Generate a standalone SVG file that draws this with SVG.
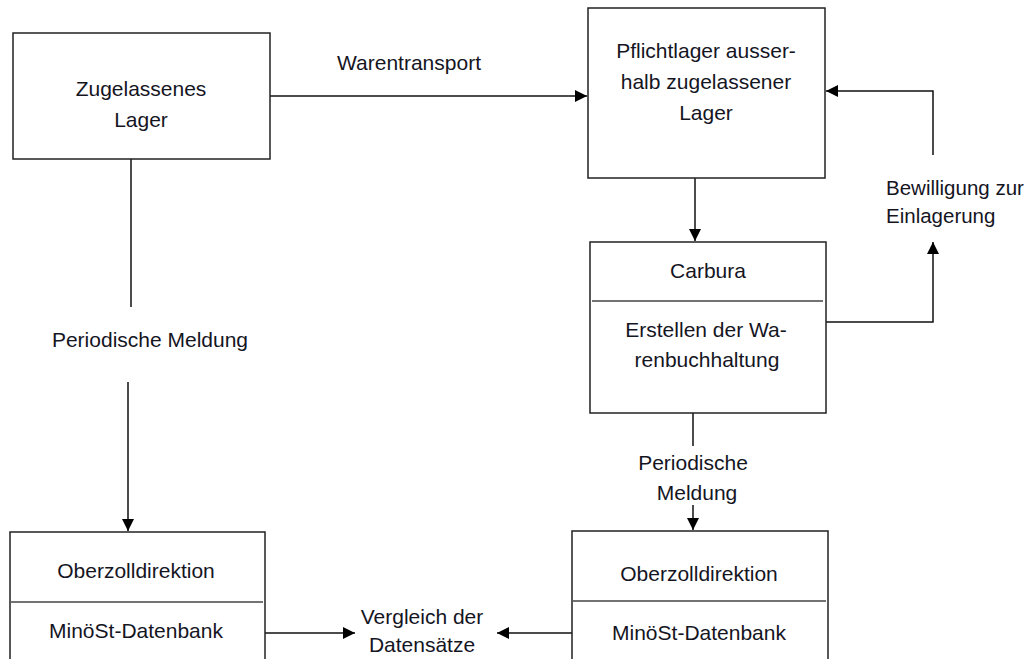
<svg xmlns="http://www.w3.org/2000/svg" width="1033" height="659" viewBox="0 0 1033 659">
<defs>
<marker id="arr" viewBox="0 0 10 10" refX="10" refY="5" markerWidth="12" markerHeight="12" markerUnits="userSpaceOnUse" orient="auto">
<path d="M0,0 L10,5 L0,10 z" fill="#000"/>
</marker>
<style>
.box{fill:#fff;stroke:#222;stroke-width:1.5}
.div{stroke:#444;stroke-width:1.5}
.t{font-family:"Liberation Sans",Arial,sans-serif;font-size:21px;fill:#15151f;text-anchor:middle}
.tl{font-family:"Liberation Sans",Arial,sans-serif;font-size:20.5px;fill:#15151f}
.c{fill:none;stroke:#111;stroke-width:1.5}
</style>
</defs>
<rect width="1033" height="659" fill="#fff"/>
<g id="connectors">
<line class="c" x1="270" y1="96" x2="587" y2="96" marker-end="url(#arr)"/>
<text class="t" x="409" y="70">Warentransport</text>
<line class="c" x1="131" y1="159" x2="131" y2="307"/>
<line class="c" x1="128" y1="382" x2="128" y2="531" marker-end="url(#arr)"/>
<text class="t" x="150" y="347">Periodische Meldung</text>
<line class="c" x1="695" y1="178" x2="695" y2="241" marker-end="url(#arr)"/>
<polyline class="c" points="826,322 933,322 933,242" marker-end="url(#arr)"/>
<polyline class="c" points="933,155 933,91 826,91" marker-end="url(#arr)"/>
<text class="tl" x="886" y="195">Bewilligung zur</text>
<text class="tl" x="886" y="223">Einlagerung</text>
<line class="c" x1="693" y1="413" x2="693" y2="446"/>
<line class="c" x1="693" y1="505" x2="693" y2="530" marker-end="url(#arr)"/>
<text class="t" x="693" y="470">Periodische</text>
<text class="t" x="697" y="500">Meldung</text>
<line class="c" x1="265" y1="633" x2="355" y2="633" marker-end="url(#arr)"/>
<line class="c" x1="572" y1="633" x2="497" y2="633" marker-end="url(#arr)"/>
<text class="t" x="422" y="624">Vergleich der</text>
<text class="t" x="422" y="652">Datensätze</text>
</g>
<g id="zugelassenes-lager">
<rect class="box" x="13" y="33" width="257" height="126"/>
<text class="t" x="141" y="96">Zugelassenes</text>
<text class="t" x="141" y="127">Lager</text>
</g>
<g id="pflichtlager">
<rect class="box" x="588" y="8" width="237" height="170"/>
<text class="t" x="706" y="58">Pflichtlager ausser-</text>
<text class="t" x="706" y="89">halb zugelassener</text>
<text class="t" x="706" y="120">Lager</text>
</g>
<g id="carbura">
<rect class="box" x="590" y="242" width="236" height="171"/>
<line class="div" x1="592" y1="301" x2="823" y2="301"/>
<text class="t" x="708" y="278">Carbura</text>
<text class="t" x="706" y="337">Erstellen der Wa-</text>
<text class="t" x="707" y="367">renbuchhaltung</text>
</g>
<g id="ozd-links">
<rect class="box" x="10" y="532" width="255" height="140"/>
<line class="div" x1="11" y1="602" x2="263" y2="602"/>
<text class="t" x="136" y="578">Oberzolldirektion</text>
<text class="t" x="136" y="638">MinöSt-Datenbank</text>
</g>
<g id="ozd-rechts">
<rect class="box" x="572" y="531" width="256" height="140"/>
<line class="div" x1="573" y1="601" x2="826" y2="601"/>
<text class="t" x="699" y="581">Oberzolldirektion</text>
<text class="t" x="699" y="640">MinöSt-Datenbank</text>
</g>
</svg>
